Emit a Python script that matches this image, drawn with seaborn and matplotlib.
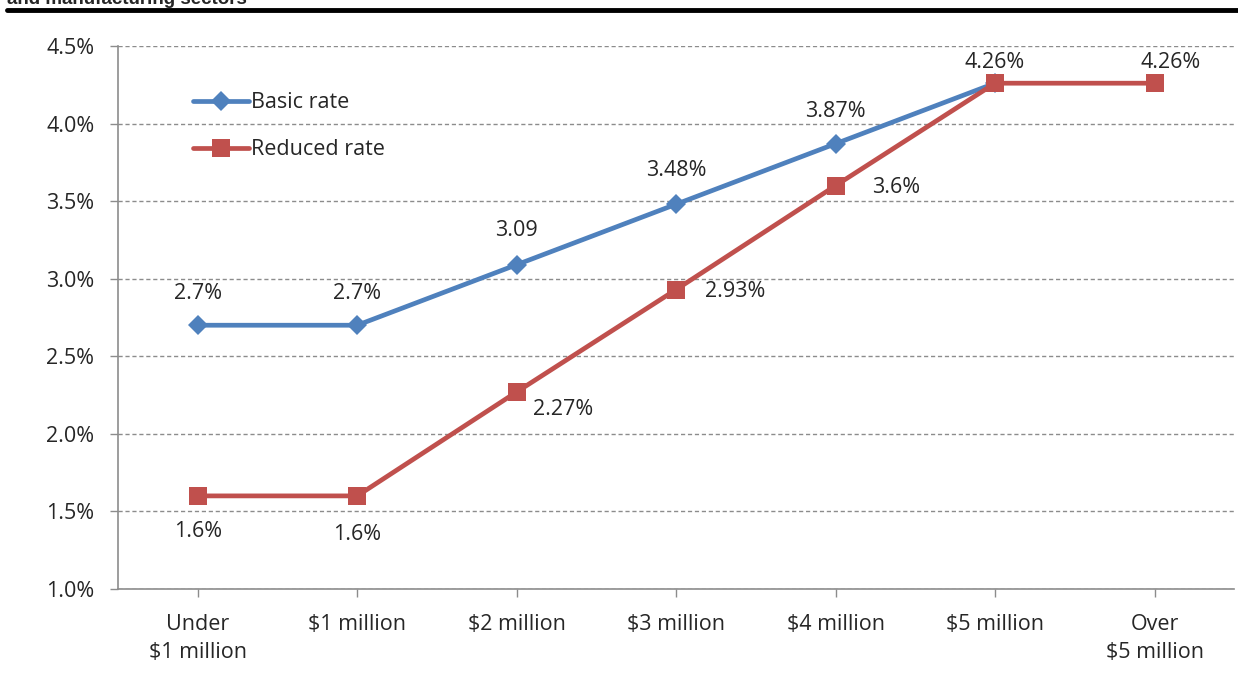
import matplotlib
matplotlib.use("Agg")
import matplotlib.pyplot as plt
import seaborn as sns
import pandas as pd
import numpy as np

categories = ["Under\n$1 million", "$1 million", "$2 million", "$3 million",
              "$4 million", "$5 million", "Over\n$5 million"]
basic_rate = [2.7, 2.7, 3.09, 3.48, 3.87, 4.26, np.nan]
reduced_rate = [1.6, 1.6, 2.27, 2.93, 3.6, 4.26, 4.26]
basic_labels = ["2.7%", "2.7%", "3.09", "3.48%", "3.87%", "4.26%", None]
reduced_labels = ["1.6%", "1.6%", "2.27%", "2.93%", "3.6%", None, "4.26%"]
y_ticks = [1.0, 1.5, 2.0, 2.5, 3.0, 3.5, 4.0, 4.5]

sns.set_style("white")
plt.rcParams["font.family"] = ["Open Sans", "DejaVu Sans"]

df = pd.DataFrame({
    "x": list(range(len(categories))) * 2,
    "rate": basic_rate + reduced_rate,
    "series": ["Basic rate"] * len(categories) + ["Reduced rate"] * len(categories),
})

fig = plt.figure(figsize=(12.38, 6.78), dpi=100)
ax = fig.add_axes([0.0953, 0.1313, 0.9017, 0.8009])

for t in y_ticks:
    ax.axhline(t, color="#8c8c8c", lw=1, ls=(0, (3, 2)), zorder=0)

sns.lineplot(data=df, x="x", y="rate", hue="series", style="series",
             palette={"Basic rate": "#4F81BD", "Reduced rate": "#C0504D"},
             markers={"Basic rate": "D", "Reduced rate": "s"}, dashes=False,
             markersize=12, markeredgewidth=0, linewidth=3.4, ax=ax, zorder=3)
for line in ax.lines:
    if line.get_marker() == "s":
        line.set_markersize(13)
    elif line.get_marker() == "D":
        line.set_markersize(10.5)

fs = 15.5
px = 0.72  # pixel -> points
# label offsets (dx, dy) in pixels, centred on the label
basic_offs = [(0, 32), (0, 32), (0, 34), (0, 34), (0, 32), (0, 21), None]
reduced_offs = [(0, -36), (0, -39), (46, -18), (59, -2), (61, -2), None, (16, 21)]

for i, lab in enumerate(basic_labels):
    if lab:
        dx, dy = basic_offs[i]
        ax.annotate(lab, (i, basic_rate[i]), xytext=(dx * px, dy * px), textcoords="offset points",
                    ha="center", va="center", fontsize=fs)
for i, lab in enumerate(reduced_labels):
    if lab:
        dx, dy = reduced_offs[i]
        ax.annotate(lab, (i, reduced_rate[i]), xytext=(dx * px, dy * px), textcoords="offset points",
                    ha="center", va="center", fontsize=fs)

ax.set_xlim(-0.5, len(categories) - 0.5)
ax.set_ylim(1.0, 4.5)
ax.set_yticks(y_ticks)
ax.set_yticklabels([f"{t:.1f}%" for t in y_ticks], fontsize=fs)
ax.set_xticks(range(len(categories)))
ax.set_xticklabels(categories, fontsize=fs, linespacing=1.45)
ax.set_xlabel("")
ax.set_ylabel("")
ax.tick_params(axis="both", length=6, color="#8c8c8c", width=1, direction="out")
ax.tick_params(axis="x", pad=12)
ax.tick_params(axis="y", pad=11)
ax.xaxis.set_ticks_position("bottom")
ax.yaxis.set_ticks_position("left")
for s in ["top", "right"]:
    ax.spines[s].set_visible(False)
for s in ["left", "bottom"]:
    ax.spines[s].set_color("#8c8c8c")
    ax.spines[s].set_linewidth(1.2)

leg = ax.legend(loc="upper left", bbox_to_anchor=(0.05, 0.95), frameon=False,
                fontsize=fs, handlelength=2.6, handletextpad=0.1, labelspacing=1.2)

fig.text(0.006, 0.994, "and manufacturing sectors", fontsize=13.5, fontweight="bold",
         ha="left", va="baseline", family="Liberation Sans")
fig.add_artist(plt.Line2D([0.006, 1.0], [0.985, 0.985], color="black", lw=3.5,
                          transform=fig.transFigure))

fig.savefig("out.png", dpi=100)
